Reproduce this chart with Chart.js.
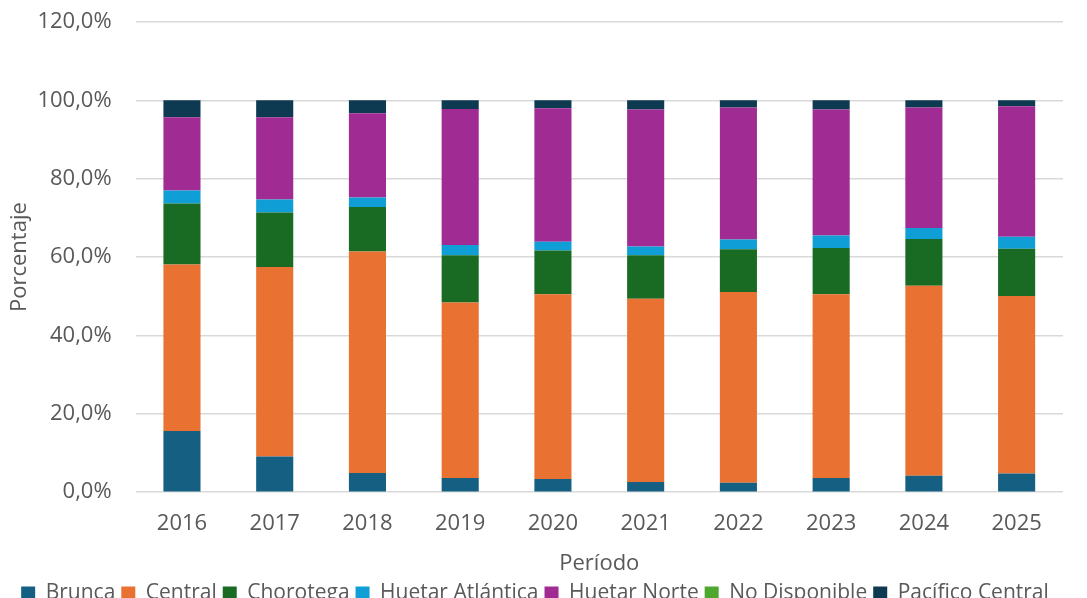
<!DOCTYPE html>
<html>
<head>
<meta charset="utf-8">
<script src="https://cdn.jsdelivr.net/npm/chart.js@4/dist/chart.umd.min.js"></script>
<style>
html,body{margin:0;padding:0;overflow:hidden;background:#fff;}
#wrap{position:absolute;left:0;top:-10px;width:1087px;height:624px;}
</style>
</head>
<body>
<div id="wrap"><canvas id="c" width="1087" height="624"></canvas></div>
<script>
const categories = ["2016","2017","2018","2019","2020","2021","2022","2023","2024","2025"];
const brunca        = [15.6, 9.1, 4.9, 3.6, 3.4, 2.6, 2.4, 3.6, 4.2, 4.8];
const central       = [42.5, 48.4, 56.5, 44.8, 47.1, 46.8, 48.7, 46.9, 48.5, 45.3];
const chorotega     = [15.6, 13.9, 11.4, 12.1, 11.2, 11.1, 10.9, 11.8, 11.9, 12.0];
const huetarAtl     = [3.3, 3.3, 2.4, 2.6, 2.2, 2.2, 2.5, 3.2, 2.8, 3.1];
const huetarNorte   = [18.7, 21.0, 21.5, 34.7, 34.1, 35.0, 33.7, 32.2, 30.8, 33.3];
const noDisponible  = [0, 0, 0, 0, 0, 0, 0, 0, 0, 0];
const pacificoCentral = [4.3, 4.3, 3.3, 2.2, 2.0, 2.3, 1.8, 2.3, 1.8, 1.5];
const seriesNames = ["Brunca","Central","Chorotega","Huetar Atlántica","Huetar Norte","No Disponible","Pacífico Central"];
const yTicks = [0, 20, 40, 60, 80, 100, 120];

const colors = ["#156082","#E97132","#196B24","#0F9ED5","#A02B93","#4EA72E","#0E3A51"];
const seriesData = [brunca, central, chorotega, huetarAtl, huetarNorte, noDisponible, pacificoCentral];

const FONT = "'Open Sans', 'Liberation Sans', sans-serif";
const TXT = "#595959";

new Chart(document.getElementById('c'), {
  type: 'bar',
  data: {
    labels: categories,
    datasets: seriesNames.map((n, i) => ({
      label: n,
      data: seriesData[i],
      backgroundColor: colors[i],
      borderWidth: 0,
      categoryPercentage: 1.0,
      barPercentage: 0.4
    }))
  },
  options: {
    responsive: false,
    animation: false,
    layout: { padding: { left: 7, right: 24, top: 32, bottom: 0 } },
    plugins: {
      tooltip: { enabled: false },
      legend: {
        position: 'bottom',
        labels: {
          boxWidth: 14, boxHeight: 14, padding: 6,
          color: TXT,
          font: { family: FONT, size: 21 }
        }
      }
    },
    scales: {
      x: {
        stacked: true,
        grid: { display: true, drawOnChartArea: false, drawTicks: true, tickLength: 18, tickColor: 'rgba(0,0,0,0)', color: 'rgba(0,0,0,0)' },
        border: { display: false },
        ticks: { color: TXT, font: { family: FONT, size: 22 }, padding: 0 },
        title: { display: true, text: 'Período', color: TXT, font: { family: FONT, size: 22 }, padding: { top: 14, bottom: 0 } }
      },
      y: {
        stacked: true,
        min: 0, max: 120,
        afterBuildTicks: (axis) => { axis.ticks = yTicks.map(v => ({ value: v })); },
        grid: { color: '#d9d9d9', lineWidth: 1.5, drawTicks: true, tickLength: 24, tickColor: 'rgba(0,0,0,0)' },
        border: { display: false },
        ticks: {
          color: TXT, font: { family: FONT, size: 22 }, padding: 0,
          callback: (v) => v.toFixed(1).replace('.', ',') + '%'
        },
        title: { display: true, text: 'Porcentaje', color: TXT, font: { family: FONT, size: 22 }, padding: { top: 0, bottom: 4 } }
      }
    }
  }
});
</script>
</body>
</html>
